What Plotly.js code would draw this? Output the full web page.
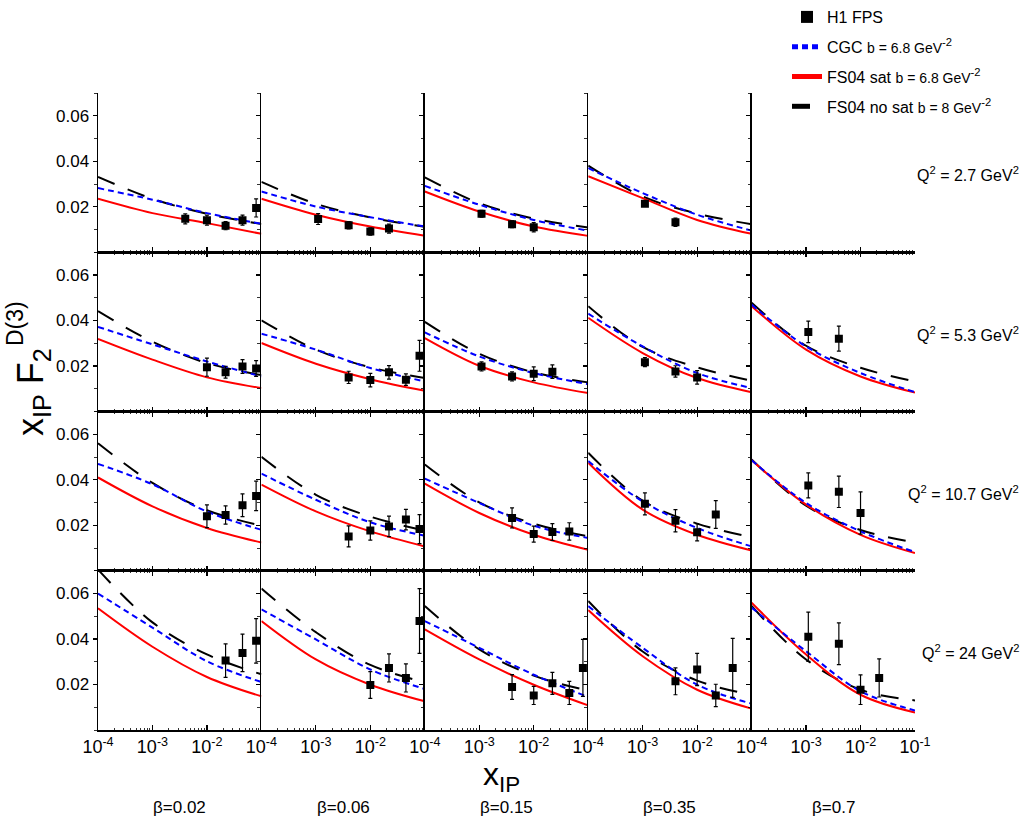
<!DOCTYPE html>
<html>
<head>
<meta charset="utf-8">
<script src="https://cdn.plot.ly/plotly-3.0.1.min.js"></script>
<style>
  html, body { margin: 0; padding: 0; background: #fff; }
  #chart { width: 1028px; height: 826px; }
</style>
</head>
<body>
<div id="chart"></div>
<script>
// x_IP bins of the H1 FPS measurement (shared by all panels)
const xIP = [0.0011, 0.004, 0.01, 0.022, 0.045, 0.08];
// x_IP nodes at which the model curves are given
const xCurve = [1e-4, 1e-3, 1e-2, 1e-1];

const betaLabels = ['β=0.02', 'β=0.06', 'β=0.15', 'β=0.35', 'β=0.7'];
const q2Labels = [
  'Q<sup>2</sup> = 2.7 GeV<sup>2</sup>',
  'Q<sup>2</sup> = 5.3 GeV<sup>2</sup>',
  'Q<sup>2</sup> = 10.7 GeV<sup>2</sup>',
  'Q<sup>2</sup> = 24 GeV<sup>2</sup>'
];
const xTickVals = [1e-4, 1e-3, 1e-2, 1e-1];
const xTickText = ['10<sup>-4</sup>', '10<sup>-3</sup>', '10<sup>-2</sup>', '10<sup>-1</sup>'];
const yTickVals = [0.02, 0.04, 0.06];

// H1 FPS x_IP F2^D(3): one row per Q², one list per β (null = no point)
const h1Q2_27 = [
  [null, 0.0147, 0.0141, 0.0117, 0.0141, 0.0195],
  [0.0146, 0.0119, 0.0091, 0.0104, null, null],
  [0.0169, 0.0123, 0.0110, null, null, null],
  [0.0213, 0.0132, null, null, null, null],
  [null, null, null, null, null, null]
];
const h1Q2_53 = [
  [null, null, 0.0195, 0.0173, 0.0198, 0.0189],
  [null, 0.0150, 0.0138, 0.0172, 0.0140, 0.0245],
  [0.0198, 0.0154, 0.0166, 0.0175, null, null],
  [0.0217, 0.0176, 0.0150, null, null, null],
  [0.0350, 0.0320, null, null, null, null]
];
const h1Q2_107 = [
  [null, null, 0.0240, 0.0245, 0.0288, 0.0329],
  [null, 0.0151, 0.0177, 0.0195, 0.0225, 0.0183],
  [null, 0.0232, 0.0161, 0.0170, 0.0173, null],
  [0.0294, 0.0220, 0.0169, 0.0247, null, null],
  [0.0375, 0.0347, 0.0254, null, null, null]
];
const h1Q2_24 = [
  [null, null, null, 0.0305, 0.0339, 0.0392],
  [null, null, 0.0198, 0.0273, 0.0229, 0.0479],
  [null, 0.0189, 0.0152, 0.0205, 0.0163, 0.0273],
  [null, 0.0214, 0.0266, 0.0152, 0.0273, null],
  [0.0410, 0.0379, 0.0177, 0.0229, null, null]
];

// H1 FPS total uncertainties
const errQ2_27 = [
  [null, 0.0022, 0.0022, 0.0018, 0.0022, 0.0040],
  [0.0024, 0.0016, 0.0016, 0.0020, null, null],
  [0.0015, 0.0015, 0.0020, null, null, null],
  [0.0012, 0.0018, null, null, null, null],
  [null, null, null, null, null, null]
];
const errQ2_53 = [
  [null, null, 0.0040, 0.0026, 0.0030, 0.0035],
  [null, 0.0027, 0.0030, 0.0030, 0.0025, 0.0068],
  [0.0020, 0.0020, 0.0030, 0.0030, null, null],
  [0.0020, 0.0025, 0.0030, null, null, null],
  [0.0047, 0.0055, null, null, null, null]
];
const errQ2_107 = [
  [null, null, 0.0050, 0.0040, 0.0050, 0.0065],
  [null, 0.0046, 0.0042, 0.0045, 0.0045, 0.0064],
  [null, 0.0044, 0.0035, 0.0037, 0.0038, null],
  [0.0048, 0.0049, 0.0038, 0.0061, null, null],
  [0.0055, 0.0069, 0.0093, null, null, null]
];
const errQ2_24 = [
  [null, null, null, 0.0074, 0.0082, 0.0098],
  [null, null, 0.0059, 0.0062, 0.0062, 0.0142],
  [null, 0.0054, 0.0040, 0.0048, 0.0051, 0.0125],
  [null, 0.0059, 0.0071, 0.0049, 0.0130, null],
  [0.0108, 0.0092, 0.0065, 0.0084, null, null]
];

// CGC, b = 6.8 GeV^-2 (values at xCurve)
const cgcQ2_27 = [
  [0.0282, 0.0231, 0.0172, 0.0125],
  [0.0267, 0.0201, 0.0154, 0.0113],
  [0.0292, 0.0209, 0.0142, 0.0095],
  [0.0370, 0.0260, 0.0165, 0.0095],
  null
];
const cgcQ2_53 = [
  [0.0372, 0.0295, 0.0220, 0.0154],
  [0.0342, 0.0272, 0.0191, 0.0132],
  [0.0348, 0.0242, 0.0169, 0.0120],
  [0.0430, 0.0286, 0.0169, 0.0103],
  [0.0470, 0.0286, 0.0169, 0.0085]
];
const cgcQ2_107 = [
  [0.0470, 0.0380, 0.0260, 0.0180],
  [0.0427, 0.0312, 0.0213, 0.0154],
  [0.0405, 0.0298, 0.0198, 0.0144],
  [0.0482, 0.0305, 0.0188, 0.0107],
  [0.0486, 0.0298, 0.0173, 0.0082]
];
const cgcQ2_24 = [
  [0.0600, 0.0450, 0.0302, 0.0211],
  [0.0530, 0.0398, 0.0266, 0.0180],
  [0.0479, 0.0361, 0.0243, 0.0145],
  [0.0545, 0.0361, 0.0199, 0.0116],
  [0.0538, 0.0346, 0.0170, 0.0086]
];

// FS04 with saturation, b = 6.8 GeV^-2
const satQ2_27 = [
  [0.0235, 0.0172, 0.0128, 0.0081],
  [0.0235, 0.0165, 0.0113, 0.0073],
  [0.0267, 0.0179, 0.0113, 0.0072],
  [0.0334, 0.0238, 0.0142, 0.0081],
  null
];
const satQ2_53 = [
  [0.0319, 0.0228, 0.0150, 0.0103],
  [0.0301, 0.0210, 0.0142, 0.0091],
  [0.0323, 0.0201, 0.0128, 0.0081],
  [0.0412, 0.0257, 0.0147, 0.0085],
  [0.0463, 0.0272, 0.0154, 0.0083]
];
const satQ2_107 = [
  [0.0410, 0.0283, 0.0188, 0.0124],
  [0.0379, 0.0261, 0.0173, 0.0107],
  [0.0383, 0.0254, 0.0158, 0.0092],
  [0.0475, 0.0269, 0.0158, 0.0089],
  [0.0486, 0.0291, 0.0158, 0.0078]
];
const satQ2_24 = [
  [0.0535, 0.0366, 0.0233, 0.0148],
  [0.0479, 0.0310, 0.0199, 0.0126],
  [0.0442, 0.0310, 0.0199, 0.0108],
  [0.0527, 0.0324, 0.0177, 0.0094],
  [0.0560, 0.0332, 0.0155, 0.0077]
];

// FS04 without saturation, b = 8 GeV^-2
const nosatQ2_27 = [
  [0.0331, 0.0235, 0.0169, 0.0124],
  [0.0309, 0.0213, 0.0153, 0.0112],
  [0.0329, 0.0216, 0.0148, 0.0109],
  [0.0381, 0.0245, 0.0170, 0.0123],
  null
];
const nosatQ2_53 = [
  [0.0441, 0.0307, 0.0213, 0.0160],
  [0.0401, 0.0272, 0.0194, 0.0147],
  [0.0394, 0.0254, 0.0172, 0.0128],
  [0.0463, 0.0284, 0.0194, 0.0135],
  [0.0478, 0.0289, 0.0192, 0.0132]
];
const nosatQ2_107 = [
  [0.0560, 0.0386, 0.0266, 0.0198],
  [0.0501, 0.0334, 0.0238, 0.0177],
  [0.0467, 0.0301, 0.0207, 0.0151],
  [0.0519, 0.0308, 0.0207, 0.0148],
  [0.0489, 0.0286, 0.0179, 0.0124]
];
const nosatQ2_24 = [
  [0.0705, 0.0473, 0.0332, 0.0245],
  [0.0622, 0.0430, 0.0286, 0.0210],
  [0.0545, 0.0354, 0.0239, 0.0173],
  [0.0567, 0.0345, 0.0217, 0.0155],
  [0.0545, 0.0310, 0.0177, 0.0130]
];

const h1Rows = [h1Q2_27, h1Q2_53, h1Q2_107, h1Q2_24];
const errRows = [errQ2_27, errQ2_53, errQ2_107, errQ2_24];
const cgcRows = [cgcQ2_27, cgcQ2_53, cgcQ2_107, cgcQ2_24];
const satRows = [satQ2_27, satQ2_53, satQ2_107, satQ2_24];
const nosatRows = [nosatQ2_27, nosatQ2_53, nosatQ2_107, nosatQ2_24];

// ---- page geometry (pixels) ----
const W = 1028, H = 826;
const M = { l: 98, r: 113, t: 93, b: 96, autoexpand: false };
const plotW = W - M.l - M.r, plotH = H - M.t - M.b;
const NC = 5, NR = 4;
const px = v => (v - M.l) / plotW;          // page x -> paper x
const py = v => (H - M.b - v) / plotH;      // page y -> paper y

const FONT = 'Liberation Sans, Arial, Helvetica, sans-serif';

const seriesStyle = {
  nosat: { name: 'FS04 no sat <span style="font-size:14px">b = 8 GeV</span><sup>-2</sup>',
           line: { color: '#000000', width: 2, dash: '18px,14px', shape: 'spline' }, rank: 4 },
  sat:   { name: 'FS04 sat <span style="font-size:14px">b = 6.8 GeV</span><sup>-2</sup>',
           line: { color: '#ff0000', width: 2, shape: 'spline' }, rank: 3 },
  cgc:   { name: 'CGC <span style="font-size:14px">b = 6.8 GeV</span><sup>-2</sup>',
           line: { color: '#0000ff', width: 2, dash: '6px,4px', shape: 'spline' }, rank: 2 }
};

const traces = [];
const layout = {
  width: W, height: H,
  margin: M,
  paper_bgcolor: '#ffffff',
  plot_bgcolor: '#ffffff',
  font: { family: FONT, size: 16, color: '#000' },
  showlegend: true,
  legend: {
    xref: 'container', yref: 'container',
    x: 787 / W, y: 1.0098, xanchor: 'left', yanchor: 'top',
    bgcolor: 'rgba(0,0,0,0)', borderwidth: 0,
    font: { family: FONT, size: 16, color: '#000' },
    traceorder: 'grouped', tracegroupgap: 6, itemsizing: 'constant'
  },
  annotations: []
};

for (let r = 0; r < NR; r++) {
  for (let c = 0; c < NC; c++) {
    const n = r * NC + c + 1;
    const xa = 'x' + (n === 1 ? '' : n), ya = 'y' + (n === 1 ? '' : n);
    const xk = 'xaxis' + (n === 1 ? '' : n), yk = 'yaxis' + (n === 1 ? '' : n);
    const nt = c === NC - 1 ? 4 : 3;

    layout[xk] = {
      type: 'log', range: [-4, -1],
      domain: [c / NC, (c + 1) / NC],
      anchor: ya,
      showline: true, linecolor: '#000', linewidth: 1.5,
      mirror: r > 0 ? 'ticks' : false,
      ticks: 'inside', ticklen: 5, tickwidth: 1.2, tickcolor: '#000',
      tickmode: 'array', tickvals: xTickVals.slice(0, nt), ticktext: xTickText.slice(0, nt),
      showticklabels: r === NR - 1,
      tickfont: { family: FONT, size: 18 },
      minor: { dtick: 'D1', ticks: 'inside', ticklen: 2.5, tickwidth: 0.8, tickcolor: '#000', showgrid: false },
      showgrid: false, zeroline: false, fixedrange: true
    };
    layout[yk] = {
      range: [0, 0.07],
      domain: [1 - (r + 1) / NR, 1 - r / NR],
      anchor: xa,
      showline: true, linecolor: '#000', linewidth: 1.5,
      ticks: 'outside', ticklen: 4, tickwidth: 1.2, tickcolor: '#000',
      tickmode: 'array', tickvals: yTickVals, tickformat: '.2f',
      showticklabels: c === 0,
      tickfont: { family: FONT, size: 17 },
      minor: { dtick: 0.01, tick0: 0, ticks: 'outside', ticklen: 2.5, tickwidth: 0.8, tickcolor: '#000', showgrid: false },
      showgrid: false, zeroline: false, fixedrange: true
    };

    const curves = { nosat: nosatRows[r][c], sat: satRows[r][c], cgc: cgcRows[r][c] };
    let any = false;
    ['nosat', 'sat', 'cgc'].forEach(key => {
      const vals = curves[key];
      if (!vals) return;
      any = true;
      const s = seriesStyle[key];
      traces.push({
        type: 'scatter', mode: 'lines', x: xCurve, y: vals,
        xaxis: xa, yaxis: ya, line: s.line, name: s.name,
        legendgroup: key, legendrank: s.rank, showlegend: n === 1,
        hoverinfo: 'skip'
      });
    });

    const pts = h1Rows[r][c], errs = errRows[r][c];
    if (pts.some(v => v !== null)) {
      any = true;
      traces.push({
        type: 'scatter', mode: 'markers', x: xIP, y: pts,
        xaxis: xa, yaxis: ya, name: 'H1 FPS',
        marker: { symbol: 'square', size: 8, color: '#000' },
        error_y: { type: 'data', array: errs, visible: true, color: '#000', thickness: 1.2, width: 2 },
        legendgroup: 'h1', legendrank: 1, showlegend: n === 1
      });
    }
    if (!any) {
      // empty panel: keep its axes on the page
      traces.push({ type: 'scatter', mode: 'markers', x: [], y: [], xaxis: xa, yaxis: ya,
                    showlegend: false, hoverinfo: 'skip' });
    }
  }
}

// Q² labels to the right of each row
const rowLabelY = [174, 333.5, 493, 652];
q2Labels.forEach((t, r) => {
  layout.annotations.push({
    xref: 'paper', yref: 'paper', x: px(1021), y: py(rowLabelY[r]),
    xanchor: 'right', yanchor: 'middle', showarrow: false,
    text: t, font: { family: FONT, size: 16 }
  });
});

// β labels under each column
betaLabels.forEach((t, c) => {
  layout.annotations.push({
    xref: 'paper', yref: 'paper', x: (c + 0.5) / NC, y: py(807),
    xanchor: 'center', yanchor: 'middle', showarrow: false,
    text: t, font: { family: 'Liberation Sans Narrow, ' + FONT, size: 17 }
  });
});

// axis titles
layout.annotations.push({
  xref: 'paper', yref: 'paper', x: px(501), y: py(776),
  xanchor: 'center', yanchor: 'middle', showarrow: false,
  text: 'x<sub>IP</sub>', font: { family: FONT, size: 32 }
});
layout.annotations.push({
  xref: 'paper', yref: 'paper', x: px(33), y: py(392),
  xanchor: 'center', yanchor: 'middle', showarrow: false, textangle: -90,
  text: 'x<sub>IP</sub> F<sub>2</sub>', font: { family: FONT, size: 36 }
});
layout.annotations.push({
  xref: 'paper', yref: 'paper', x: px(15), y: py(324),
  xanchor: 'center', yanchor: 'middle', showarrow: false, textangle: -90,
  text: 'D(3)', font: { family: FONT, size: 23 }
});

Plotly.newPlot('chart', traces, layout, { staticPlot: true, displayModeBar: false });
</script>
</body>
</html>
